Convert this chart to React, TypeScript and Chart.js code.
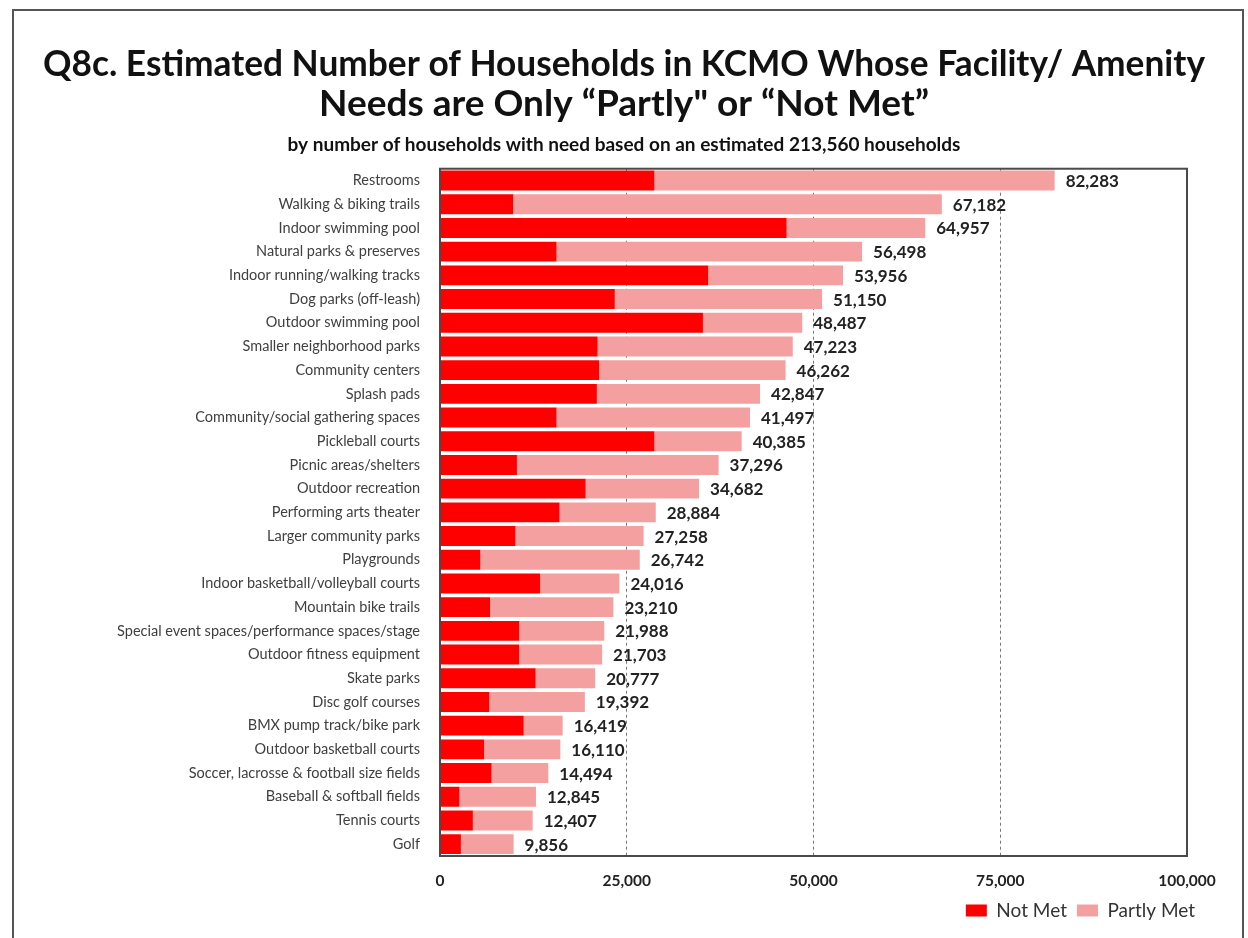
import React, { useEffect, useRef } from "react";
import { Chart, registerables } from "chart.js";

Chart.register(...registerables);

const categories = [
  "Restrooms",
  "Walking & biking trails",
  "Indoor swimming pool",
  "Natural parks & preserves",
  "Indoor running/walking tracks",
  "Dog parks (off-leash)",
  "Outdoor swimming pool",
  "Smaller neighborhood parks",
  "Community centers",
  "Splash pads",
  "Community/social gathering spaces",
  "Pickleball courts",
  "Picnic areas/shelters",
  "Outdoor recreation",
  "Performing arts theater",
  "Larger community parks",
  "Playgrounds",
  "Indoor basketball/volleyball courts",
  "Mountain bike trails",
  "Special event spaces/performance spaces/stage",
  "Outdoor fitness equipment",
  "Skate parks",
  "Disc golf courses",
  "BMX pump track/bike park",
  "Outdoor basketball courts",
  "Soccer, lacrosse & football size fields",
  "Baseball & softball fields",
  "Tennis courts",
  "Golf",
];

const totals = [
  82283, 67182, 64957, 56498, 53956, 51150, 48487, 47223, 46262, 42847, 41497,
  40385, 37296, 34682, 28884, 27258, 26742, 24016, 23210, 21988, 21703, 20777,
  19392, 16419, 16110, 14494, 12845, 12407, 9856,
];

const notMet = [
  28700, 9800, 46400, 15600, 35900, 23400, 35200, 21100, 21300, 21000, 15600,
  28700, 10300, 19500, 16000, 10100, 5400, 13400, 6700, 10600, 10600, 12800,
  6600, 11200, 5900, 6900, 2600, 4400, 2800,
];

const partlyMet = totals.map((t, i) => t - notMet[i]);

const xTicks = [0, 25000, 50000, 75000, 100000];

const titleLines = [
  "Q8c. Estimated Number of Households in KCMO Whose Facility/ Amenity",
  "Needs are Only \u201cPartly\" or \u201cNot Met\u201d",
];
const subtitleText =
  "by number of households with need based on an estimated 213,560 households";

const FONT = "Lato, 'Liberation Sans', sans-serif";

const framePlugin = {
  id: "frame",
  beforeDraw(chart: any) {
    const ctx = chart.ctx;
    ctx.save();
    ctx.fillStyle = "#ffffff";
    ctx.fillRect(0, 0, chart.width, chart.height);
    ctx.strokeStyle = "#555555";
    ctx.lineWidth = 2;
    ctx.strokeRect(13, 10, 1230, 1000);
    ctx.restore();
  },
  afterDatasetsDraw(chart: any) {
    const ctx = chart.ctx;
    const a = chart.chartArea;
    ctx.save();
    ctx.strokeStyle = "#4a4a4a";
    ctx.lineWidth = 2;
    ctx.strokeRect(a.left, a.top, a.right - a.left, a.bottom - a.top);
    // totals
    const xs = chart.scales.x;
    const meta = chart.getDatasetMeta(1);
    ctx.fillStyle = "#222222";
    ctx.font = "bold 17px " + FONT;
    ctx.textAlign = "left";
    ctx.textBaseline = "middle";
    totals.forEach((t, i) => {
      const bar = meta.data[i];
      const x = xs.getPixelForValue(t) + 11;
      ctx.fillText(t.toLocaleString("en-US"), x, bar.y + 1);
    });
    ctx.restore();
  },
};

export default function App() {
  const ref = useRef<HTMLCanvasElement | null>(null);

  useEffect(() => {
    if (!ref.current) return;
    const chart = new Chart(ref.current, {
      type: "bar",
      data: {
        labels: categories,
        datasets: [
          {
            label: "Not Met",
            data: notMet,
            backgroundColor: "#FF0000",
            categoryPercentage: 1,
            barPercentage: 0.84,
          },
          {
            label: "Partly Met",
            data: partlyMet,
            backgroundColor: "#F5A0A0",
            categoryPercentage: 1,
            barPercentage: 0.84,
          },
        ],
      },
      options: {
        indexAxis: "y",
        responsive: false,
        animation: false,
        layout: { padding: { left: 43, right: 43, top: 0, bottom: 8 } },
        scales: {
          x: {
            stacked: true,
            min: 0,
            max: 100000,
            afterBuildTicks(scale: any) {
              scale.ticks = xTicks.map((v) => ({ value: v }));
            },
            afterFit(scale: any) {
              scale.height = 35;
            },
            ticks: {
              color: "#222222",
              font: { family: FONT, size: 15.5, weight: "bold" },
              padding: 16,
              maxRotation: 0,
              callback: (v: any) => Number(v).toLocaleString("en-US"),
            },
            grid: {
              drawTicks: false,
              lineWidth: 1,
              color: (c: any) =>
                c.tick && (c.tick.value === 0 || c.tick.value === 100000)
                  ? "rgba(0,0,0,0)"
                  : "#777777",
            },
            border: { display: false, dash: [3, 3] },
          },
          y: {
            stacked: true,
            afterFit(scale: any) {
              scale.width = 397;
            },
            ticks: {
              autoSkip: false,
              color: "#404040",
              font: { family: FONT, size: 14.5 },
              padding: 12,
            },
            grid: { display: false },
            border: { display: false },
          },
          yRight: {
            type: "category",
            axis: "y",
            position: "right",
            afterFit(scale: any) {
              scale.width = 18;
            },
            ticks: { display: false },
            grid: { display: false },
            border: { display: false },
          },
        },
        plugins: {
          title: {
            display: true,
            text: titleLines,
            color: "#111111",
            font: { family: FONT, size: 37, weight: "bold", lineHeight: 1.08 },
            padding: { top: 44, bottom: 10 },
          },
          subtitle: {
            display: true,
            text: subtitleText,
            color: "#111111",
            font: { family: FONT, size: 19, weight: "bold", lineHeight: 1.2 },
            padding: { top: 0, bottom: 12 },
          },
          legend: {
            display: true,
            position: "bottom",
            align: "end",
            maxHeight: 40,
            labels: {
              boxWidth: 21,
              boxHeight: 12,
              color: "#333333",
              font: { family: FONT, size: 19 },
              padding: 10,
            },
          },
          tooltip: { enabled: false },
        },
      },
      plugins: [framePlugin],
    } as any);
    return () => chart.destroy();
  }, []);

  return (
    <div style={{ position: "absolute", left: 0, top: 0, width: 1248, height: 938 }}>
      <canvas ref={ref} width={1248} height={938} />
    </div>
  );
}
